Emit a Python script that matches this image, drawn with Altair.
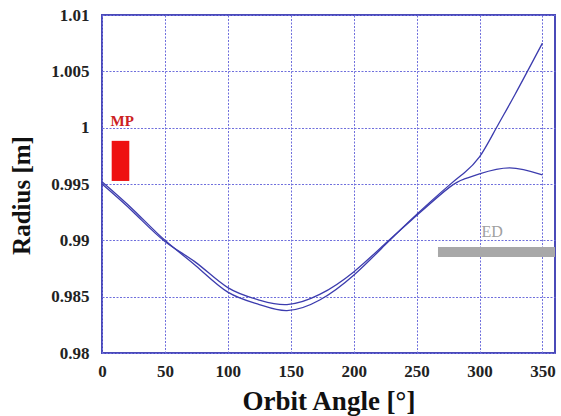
import altair as alt
import pandas as pd

# Orbit angle (deg) and radius (m) for the two orbits
angle1 = [0, 25, 50, 75, 100, 125, 147, 173, 200, 225, 250, 276, 288, 300, 313, 328, 350]
radius1 = [0.9952, 0.9927, 0.9900, 0.9877, 0.9854, 0.9843, 0.98376, 0.9847, 0.9869, 0.9896, 0.9923, 0.9949,
           0.9960, 0.9974, 0.9999, 1.0029, 1.0075]
angle2 = [0, 25, 50, 75, 100, 125, 147, 173, 200, 225, 250, 276, 288, 300, 324, 350]
radius2 = [0.9950, 0.9925, 0.9899, 0.9880, 0.9858, 0.9847, 0.9843, 0.9852, 0.9872, 0.9897, 0.9922, 0.9947,
           0.99545, 0.9959, 0.99643, 0.9958]

# Element markers (MP, ED)
elem_names = ["MP", "ED"]
elem_x1 = [7.7, 267]
elem_x2 = [21.7, 360]
elem_y1 = [0.99527, 0.98853]
elem_y2 = [0.99883, 0.98941]
elem_colors = ["#ee1111", "#a8a8a8"]
label_x = [16, 310]
label_y = [1.0006, 0.99075]
label_colors = ["#cc2222", "#a0a0a0"]

x_ticks = [0, 50, 100, 150, 200, 250, 300, 350]
y_ticks = [0.98, 0.985, 0.99, 0.995, 1.0, 1.005, 1.01]

lines = pd.concat([
    pd.DataFrame({"angle": angle1, "radius": radius1, "orbit": "a"}),
    pd.DataFrame({"angle": angle2, "radius": radius2, "orbit": "b"}),
])
elems = pd.DataFrame({"name": elem_names, "x1": elem_x1, "x2": elem_x2, "y1": elem_y1, "y2": elem_y2,
                      "color": elem_colors})
labels = pd.DataFrame({"name": elem_names, "x": label_x, "y": label_y, "color": label_colors})

FONT = "Liberation Serif"
xs = alt.Scale(domain=[0, 360], nice=False, zero=False)
ys = alt.Scale(domain=[0.98, 1.01], nice=False, zero=False)

x_axis = alt.Axis(values=x_ticks, title="Orbit Angle [°]", grid=True, ticks=False, domain=False,
                  labelFont=FONT, labelFontSize=17, labelFontWeight="bold", labelColor="#222",
                  labelPadding=10, labelFlush=False,
                  titleFont=FONT, titleFontSize=27, titleFontWeight="bold", titleColor="#111",
                  titlePadding=9, gridColor="#6f6fdc", gridDash=[2, 1.5], gridWidth=1)
y_axis = alt.Axis(values=y_ticks, title="Radius [m]", grid=True, ticks=False, domain=False, format=".3~f",
                  labelFont=FONT, labelFontSize=17, labelFontWeight="bold", labelColor="#222",
                  labelPadding=13, labelFlush=False,
                  titleFont=FONT, titleFontSize=25, titleFontWeight="bold", titleColor="#111",
                  titlePadding=16, titleY=180, gridColor="#6f6fdc", gridDash=[2, 1.5], gridWidth=1)

line_layer = alt.Chart(lines).mark_line(color="#3c3cae", strokeWidth=1.3, interpolate="natural").encode(
    x=alt.X("angle:Q", scale=xs, axis=x_axis),
    y=alt.Y("radius:Q", scale=ys, axis=y_axis),
    detail="orbit:N",
)

rect_layer = alt.Chart(elems).mark_rect().encode(
    x=alt.X("x1:Q", scale=xs), x2="x2:Q",
    y=alt.Y("y1:Q", scale=ys), y2="y2:Q",
    color=alt.Color("color:N", scale=None),
)

mp_text = alt.Chart(labels.iloc[[0]]).mark_text(font=FONT, fontSize=15, fontWeight="bold", baseline="middle",
                                                align="center").encode(
    x=alt.X("x:Q", scale=xs),
    y=alt.Y("y:Q", scale=ys),
    text="name:N",
    color=alt.Color("color:N", scale=None),
)
ed_text = alt.Chart(labels.iloc[[1]]).mark_text(font=FONT, fontSize=16, fontWeight="normal", baseline="middle",
                                                align="center").encode(
    x=alt.X("x:Q", scale=xs),
    y=alt.Y("y:Q", scale=ys),
    text="name:N",
    color=alt.Color("color:N", scale=None),
)

chart = alt.layer(rect_layer, line_layer, mp_text, ed_text).properties(
    width=453, height=338,
    autosize=alt.AutoSizeParams(type="none"),
    padding={"left": 102, "top": 15, "right": 6, "bottom": 63},
    background="white",
).configure_view(stroke="#4a4ab8", strokeWidth=2)

chart.save("out.html", embed_options={"renderer": "svg", "actions": False})
